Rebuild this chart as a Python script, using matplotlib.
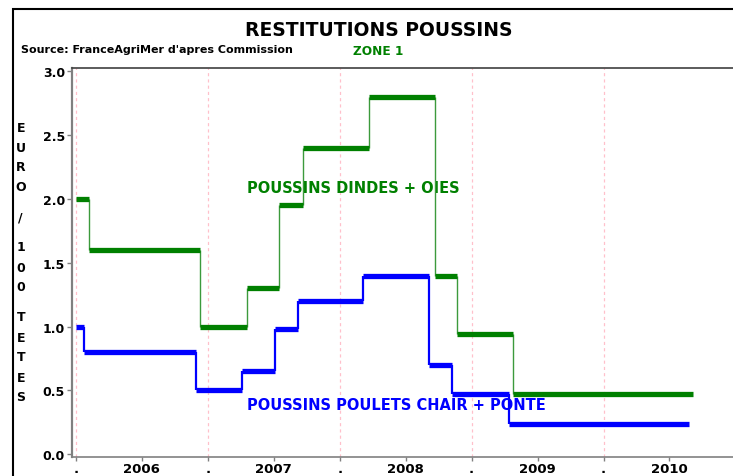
import matplotlib
matplotlib.use('Agg')
import matplotlib.pyplot as plt
from matplotlib.patches import Rectangle
import numpy as np

# Data (decimal years, EURO / 100 tetes)
dindes_starts = [2006.00, 2006.10, 2006.94, 2007.30, 2007.54, 2007.72, 2008.22, 2008.72, 2008.89, 2009.31]
dindes_end = 2010.68
dindes_vals = [2.0, 1.6, 1.0, 1.3, 1.95, 2.4, 2.8, 1.4, 0.94, 0.47]

poulets_starts = [2006.00, 2006.06, 2006.91, 2007.26, 2007.51, 2007.68, 2008.18, 2008.68, 2008.85, 2009.28]
poulets_end = 2010.65
poulets_vals = [1.0, 0.8, 0.5, 0.65, 0.98, 1.2, 1.4, 0.70, 0.47, 0.24]

years = [2006, 2007, 2008, 2009, 2010]
yticks = [0.0, 0.5, 1.0, 1.5, 2.0, 2.5, 3.0]

W, H = 733, 477
plt.rcParams['font.family'] = ['DejaVu Sans']
plt.rcParams['font.weight'] = 'bold'

fig = plt.figure(figsize=(W / 100, H / 100), dpi=100)
ax = fig.add_axes([72 / W, 1 - 457.5 / H, 674 / W, (457.5 - 68.5) / H])

# Steps: thick horizontal segments, thin vertical connectors
for starts, end, vals, col, vcol, vlw in [
        (poulets_starts, poulets_end, poulets_vals, '#0000ff', '#0000ff', 1.6),
        (dindes_starts, dindes_end, dindes_vals, '#008000', '#3c9a3c', 1.0)]:
    ends = starts[1:] + [end]
    ax.vlines(starts[1:], vals[:-1], vals[1:], colors=vcol, lw=vlw, zorder=3)
    ax.hlines(vals, starts, ends, colors=col, lw=3.8, zorder=4)

# Year boundary grid lines
for yr in years:
    ax.axvline(yr, color='#ffc0cb', lw=0.9, ls=(0, (2.5, 2.5)), zorder=1)

ax.set_xlim(2005.97, 2011.08)
ax.set_ylim(-0.018, 3.03)

xt, xl = [], []
for yr in years:
    xt += [yr, yr + 0.5]
    xl += ['.', str(yr)]
ax.set_xticks(xt)
ax.set_xticklabels(xl, fontsize=9.5, fontweight='bold')
ax.set_yticks(yticks)
ax.set_yticklabels([f'{v:.1f}' for v in yticks], fontsize=9, fontweight='bold')
ax.tick_params(axis='x', length=3, width=1, color='#808080', pad=1)
ax.tick_params(axis='y', length=3.6, width=1, color='#808080', pad=1.5)

ax.spines['right'].set_visible(False)
ax.spines['left'].set_color('#808080')
ax.spines['left'].set_linewidth(1.6)
ax.spines['bottom'].set_color('#808080')
ax.spines['bottom'].set_linewidth(1.2)
ax.spines['top'].set_color('#404040')
ax.spines['top'].set_linewidth(1.2)

# Series labels
ax.text(2007.30, 2.056, 'POUSSINS DINDES + OIES', color='#008000', fontsize=10.5,
        fontweight='bold', ha='left', va='baseline', zorder=2)
ax.text(2007.30, 0.358, 'POUSSINS POULETS CHAIR + PONTE', color='#0000ff', fontsize=10.5,
        fontweight='bold', ha='left', va='baseline', zorder=2)

# Titles
fig.text(379 / W, 1 - 36 / H, 'RESTITUTIONS POUSSINS', fontsize=13.5, fontweight='bold',
         ha='center', va='baseline')
fig.text(21 / W, 1 - 52.7 / H, "Source: FranceAgriMer d'apres Commission", fontsize=8,
         fontweight='bold', ha='left', va='baseline')
fig.text(353 / W, 1 - 55 / H, 'ZONE 1', fontsize=8.7, fontweight='bold', color='#008000',
         ha='left', va='baseline')

# Vertical stacked y label
ypx = 128
for ch in 'EURO / 100 TETES':
    if ch == ' ':
        ypx += 10
        continue
    fig.text(20.7 / W, 1 - ypx / H, ch, fontsize=9, fontweight='bold', ha='center', va='center')
    ypx += 20

# Outer frame
fig.add_artist(Rectangle((12.5 / W, -0.1), 1.5, 1.1 - 9.5 / H, transform=fig.transFigure,
                         fill=False, lw=1.5, ec='black', clip_on=False))

fig.savefig('out.png', dpi=100)
